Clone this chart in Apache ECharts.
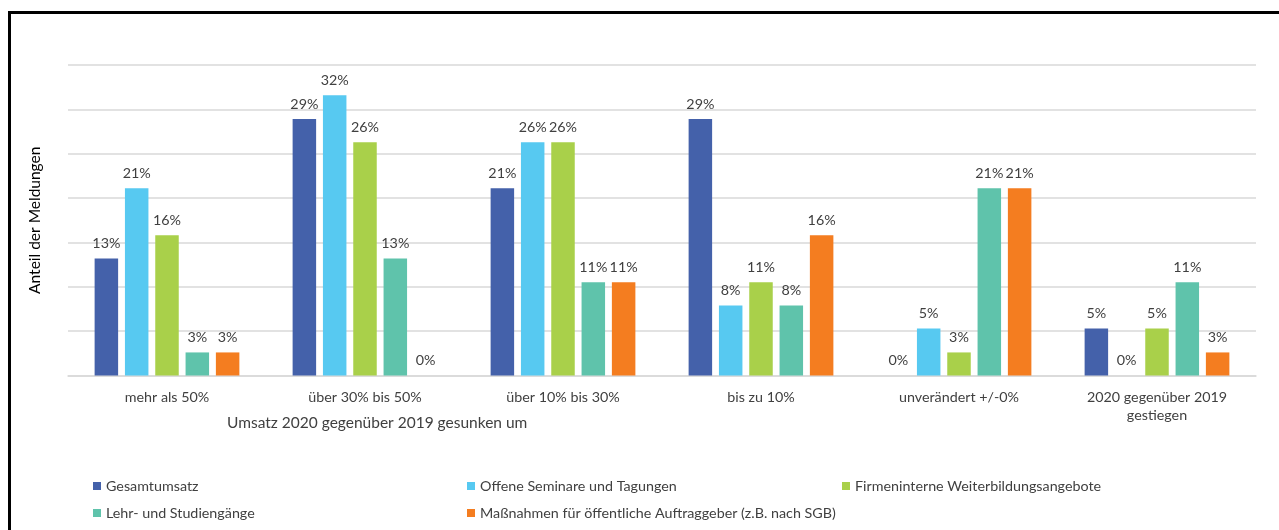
<!DOCTYPE html>
<html>
<head>
<meta charset="utf-8">
<script src="https://cdn.jsdelivr.net/npm/echarts@6/dist/echarts.min.js"></script>
<style>
  html, body { margin: 0; padding: 0; background: #ffffff; }
  #chart { width: 1279px; height: 530px; }
</style>
</head>
<body>
<div id="chart"></div>
<script>
// Umsatzentwicklung 2020 gegenüber 2019, Anteil der Meldungen in Prozent
const categories = [
  'mehr als 50%',
  'über 30% bis 50%',
  'über 10% bis 30%',
  'bis zu 10%',
  'unverändert +/-0%',
  '2020 gegenüber 2019\ngestiegen'
];

const seriesNames = [
  'Gesamtumsatz',
  'Offene Seminare und Tagungen',
  'Firmeninterne Weiterbildungsangebote',
  'Lehr- und Studiengänge',
  'Maßnahmen für öffentliche Auftraggeber (z.B. nach SGB)'
];

const gesamtumsatz      = [13.2, 28.9, 21.1, 28.9, 0, 5.3];
const offeneSeminare    = [21.1, 31.6, 26.3, 7.9, 5.3, 0];
const firmeninterne     = [15.8, 26.3, 26.3, 10.5, 2.6, 5.3];
const lehrStudiengaenge = [2.6, 13.2, 10.5, 7.9, 21.1, 10.5];
const massnahmen        = [2.6, 0, 10.5, 15.8, 21.1, 2.6];

const colors = ['#4461AA', '#57C9F1', '#A9D04A', '#5FC3AB', '#F47D20'];

const FONT = 'Lato';
const TEXT = '#404040';
const SIZE = 14.3;

const values = [gesamtumsatz, offeneSeminare, firmeninterne, lehrStudiengaenge, massnahmen];

const series = values.map((data, i) => ({
  name: seriesNames[i],
  type: 'bar',
  data: data,
  barWidth: 23.5,
  barGap: '29%',
  itemStyle: { color: colors[i] },
  label: {
    show: true,
    position: 'top',
    distance: 8,
    color: TEXT,
    fontFamily: FONT,
    fontSize: SIZE,
    formatter: p => Math.round(p.value) + '%'
  }
}));

// legend laid out in three columns, two rows
const legendPos = [
  { left: 93, top: 479 },
  { left: 467, top: 479 },
  { left: 842, top: 479 },
  { left: 93, top: 506 },
  { left: 467, top: 506 }
];
const legends = seriesNames.map((name, i) => ({
  data: [name],
  left: legendPos[i].left,
  top: legendPos[i].top,
  padding: 0,
  icon: 'rect',
  itemWidth: 8,
  itemHeight: 8,
  selectedMode: false,
  textStyle: { color: TEXT, fontFamily: FONT, fontSize: SIZE, padding: [0, 0, 0, 0] }
}));

const chart = echarts.init(document.getElementById('chart'), null, { renderer: 'canvas' });
chart.setOption({
  animation: false,
  backgroundColor: '#ffffff',
  color: colors,
  textStyle: { fontFamily: FONT },
  grid: { left: 68, right: 23, top: 65, bottom: 154.5, containLabel: false },
  legend: legends,
  xAxis: {
    type: 'category',
    data: categories,
    axisLine: { lineStyle: { color: '#d9d9d9', width: 1.5 } },
    axisTick: { show: false },
    axisLabel: {
      color: TEXT,
      fontFamily: FONT,
      fontSize: SIZE,
      margin: 13,
      lineHeight: 18,
      interval: 0
    }
  },
  yAxis: {
    type: 'value',
    min: 0,
    max: 35,
    interval: 5,
    name: 'Anteil der Meldungen',
    nameLocation: 'middle',
    nameGap: 25,
    nameTextStyle: { color: '#000000', fontFamily: FONT, fontSize: 15.5 },
    axisLabel: { show: false },
    axisLine: { show: false },
    axisTick: { show: false },
    splitLine: { lineStyle: { color: '#d9d9d9', width: 1.5 } }
  },
  graphic: [
    {
      type: 'text',
      left: 227,
      top: 415,
      style: {
        text: 'Umsatz 2020 gegenüber 2019 gesunken um',
        fill: TEXT,
        font: '15.5px ' + FONT
      }
    },
    {
      type: 'rect',
      shape: { x: 9.5, y: 12.5, width: 1400, height: 700 },
      style: { fill: 'none', stroke: '#000000', lineWidth: 3 },
      silent: true
    }
  ],
  series: series
});
</script>
</body>
</html>
